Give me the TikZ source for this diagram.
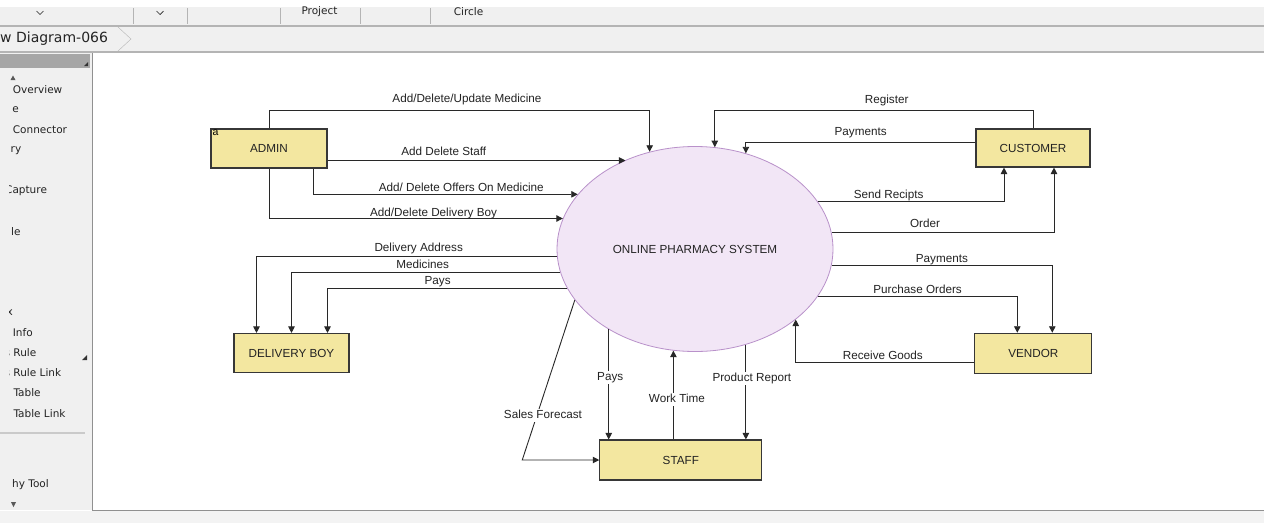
\documentclass[tikz,border=0pt]{standalone}
\usepackage{fontspec}
\setmainfont{Liberation Sans}
\newfontfamily\uifont{DejaVu Sans}
\usetikzlibrary{arrows.meta,shapes.geometric}
\definecolor{boxfill}{RGB}{243,231,160}
\definecolor{boxline}{RGB}{55,55,55}
\definecolor{ovalfill}{RGB}{242,230,246}
\definecolor{ovalline}{RGB}{185,145,202}
\definecolor{wire}{RGB}{40,40,40}
\definecolor{txt}{RGB}{35,35,35}
\definecolor{panel}{RGB}{240,240,240}
\definecolor{rim}{RGB}{180,180,180}

\begin{document}
\begin{tikzpicture}[x=1pt,y=-1pt,
    entity/.style={draw=boxline,fill=boxfill,line width=1.1pt,inner sep=0pt,text=txt,font=\fontsize{11.7}{13}\selectfont},
    flow/.style={draw=wire,line width=0.9pt,-{Triangle[length=6.5pt,width=6.5pt]}},
    lbl/.style={text=txt,font=\fontsize{11.7}{13}\selectfont,inner sep=1pt,text height=8.5pt,text depth=2.5pt},
    onwire/.style={lbl,fill=white},
    ui/.style={text=txt,font=\uifont\fontsize{10.5}{12}\selectfont,inner sep=0pt}]
	\useasboundingbox (0,0) rectangle (1264,523);
	% window around the canvas
	\fill[white] (0,0) rectangle (1264,523);
	\fill[panel] (0,7) rectangle (1264,25);
	\fill[panel] (0,27) rectangle (1264,51);
	\draw[rim,line width=1.5pt] (0,26) -- (1264,26);
	\draw[rim,line width=1.5pt] (0,52) -- (1264,52);
	\foreach \sx in {133,187,280,360,430} \draw[rim] (\sx,8) -- (\sx,24);
	\foreach \sx in {40,160} \draw[txt,line width=0.7pt] (\sx-3.5,11) -- (\sx,14.5) -- (\sx+3.5,11);
	\node[ui] (project) at (319.5,12) {Project};
	\node[ui] (circle) at (468.5,12) {Circle};
	\node[ui,anchor=west,font=\uifont\fontsize{14}{16}\selectfont] (tab) at (0,38.5) {w Diagram-066};
	\draw[rim] (118,27) -- (131,39) -- (118,51);
	\fill[panel] (0,53) rectangle (92,510);
	\fill[panel!80!white] (0,511) rectangle (1264,523);
	\draw[rim!80!black,line width=0.8pt] (92.5,53) -- (92.5,510.5) -- (1264,510.5);
	\fill[black!35] (0,54) rectangle (90,68);
	\fill[black!80] (84,66) -- (88,66) -- (88,62) -- cycle;
	\fill[black!65] (10.5,80) -- (13,75.5) -- (15.5,80) -- cycle;
	\fill[black!65] (11,502) -- (16,502) -- (13.5,507) -- cycle;
	\fill[black!80] (82,360) -- (87,360) -- (87,355) -- cycle;
	\draw[rim!70,line width=1.5pt] (0,433) -- (85,433);
	\begin{scope}
		\clip (9.5,70) rectangle (92,500);
		\node[ui,anchor=west] (sb1) at (12.7,90) {Overview};
		\node[ui,anchor=west] (sb2) at (12.2,110) {e};
		\node[ui,anchor=west] (sb3) at (12.7,130) {Connector};
		\node[ui,anchor=west] (sb4) at (10.5,151) {ry};
		\node[ui,anchor=west] (sb5) at (5,191) {Capture};
		\node[ui,anchor=west] (sb6) at (11,232) {le};
		\node[ui,anchor=west] (sb7) at (6.5,313) {x};
		\node[ui,anchor=west] (sb8) at (12.7,333) {Info};
		\node[ui,anchor=west] (sb9) at (4.5,353) {s Rule};
		\node[ui,anchor=west] (sb10) at (4.5,373) {s Rule Link};
		\node[ui,anchor=west] (sb11) at (13.3,393) {Table};
		\node[ui,anchor=west] (sb12) at (13.3,414) {Table Link};
		\node[ui,anchor=west] (sb13) at (12,485) {hy Tool};
	\end{scope}
	% process and entities
	\node[ellipse,draw=ovalline,fill=ovalfill,line width=0.8pt,minimum width=276,minimum height=205,inner sep=0pt,text=txt,font=\fontsize{11.7}{13}\selectfont] (sys) at (695,249) {ONLINE PHARMACY SYSTEM};
	\node[entity,minimum width=116,minimum height=39] (admin) at (269,148.5) {ADMIN};
	\node[anchor=north west,inner sep=0pt,font=\fontsize{10.5}{11}\selectfont] (amark) at ([xshift=2pt,yshift=-1.5pt]admin.north west) {a};
	\node[entity,minimum width=114,minimum height=38] (customer) at (1033,148) {CUSTOMER};
	\node[entity,minimum width=115,minimum height=39] (dboy) at (291.5,353) {DELIVERY BOY};
	\node[entity,minimum width=117,minimum height=40] (vendor) at (1033.3,353.3) {VENDOR};
	\node[entity,minimum width=162,minimum height=40] (staff) at (680.8,460) {STAFF};
	% admin
	\draw[flow] (admin.north) -- ++(0,-18) -| (sys.115.5) node[lbl,pos=.26,above=4pt] {Add/Delete/Update Medicine};
	\draw[flow] ([yshift=-12pt]admin.east) -- ([yshift=-12pt]admin.east -| sys.128.4) node[lbl,pos=.39,above=1pt] {Add Delete Staff};
	\draw[flow] ([xshift=44pt]admin.south) |- (sys.155.4) node[lbl,pos=.78,above=-1pt] {Add/ Delete Offers On Medicine};
	\draw[flow] (admin.south) |- (sys.167.8) node[lbl,pos=.78,above=-1.5pt] {Add/Delete Delivery Boy};
	% customer
	\draw[flow] (customer.north) -- ++(0,-18) -| (sys.79.4) node[lbl,pos=.23,above=3pt] {Register};
	\draw[flow] ([yshift=6pt]customer.west) -| (sys.62.9) node[lbl,pos=.25,above=3pt] {Payments};
	\draw[flow] (sys.21.6) -| ([xshift=-29pt]customer.south) node[lbl,pos=.19,above=-.5pt] {Send Recipts};
	\draw[flow] (sys.7.25) -| ([xshift=21pt]customer.south) node[lbl,pos=.21,above=1pt] {Order};
	% delivery boy
	\draw[flow] (sys.183.2) -| ([xshift=-35pt]dboy.north) node[lbl,pos=.23,above=1pt] {Delivery Address};
	\draw[flow] (sys.190.3) -| (dboy.north) node[lbl,pos=.256,above=-.2pt] {Medicines};
	\draw[flow] (sys.197.1) -| ([xshift=36pt]dboy.north) node[lbl,pos=.27,above=-.8pt] {Pays};
	% vendor
	\draw[flow] (sys.-7.4) -| ([xshift=19pt]vendor.north) node[lbl,pos=.25,above=-.8pt] {Payments};
	\draw[flow] (sys.-21.6) -| ([xshift=-16pt]vendor.north) node[lbl,pos=.25,above=-1.2pt] {Purchase Orders};
	\draw[flow] ([yshift=-9pt]vendor.west) -| (sys.-35.8) node[lbl,pos=.256,above=-.8pt] {Receive Goods};
	% staff
	\draw[flow] (sys.-137.5) -- (sys.-137.5 |- staff.north) node[onwire,pos=.44,xshift=1.5pt] {Pays};
	\draw[flow] (sys.-102.3 |- staff.north) -- (sys.-102.3) node[onwire,pos=.45,xshift=3.5pt] {Work Time};
	\draw[flow] (sys.-62) -- (sys.-62 |- staff.north) node[onwire,pos=.36,xshift=6pt] {Product Report};
	\draw[flow] (sys.-157.5) -- node[onwire,pos=.72,xshift=6pt] {Sales Forecast} ([xshift=-77pt]staff.west) -- (staff.west);
\end{tikzpicture}
\end{document}
